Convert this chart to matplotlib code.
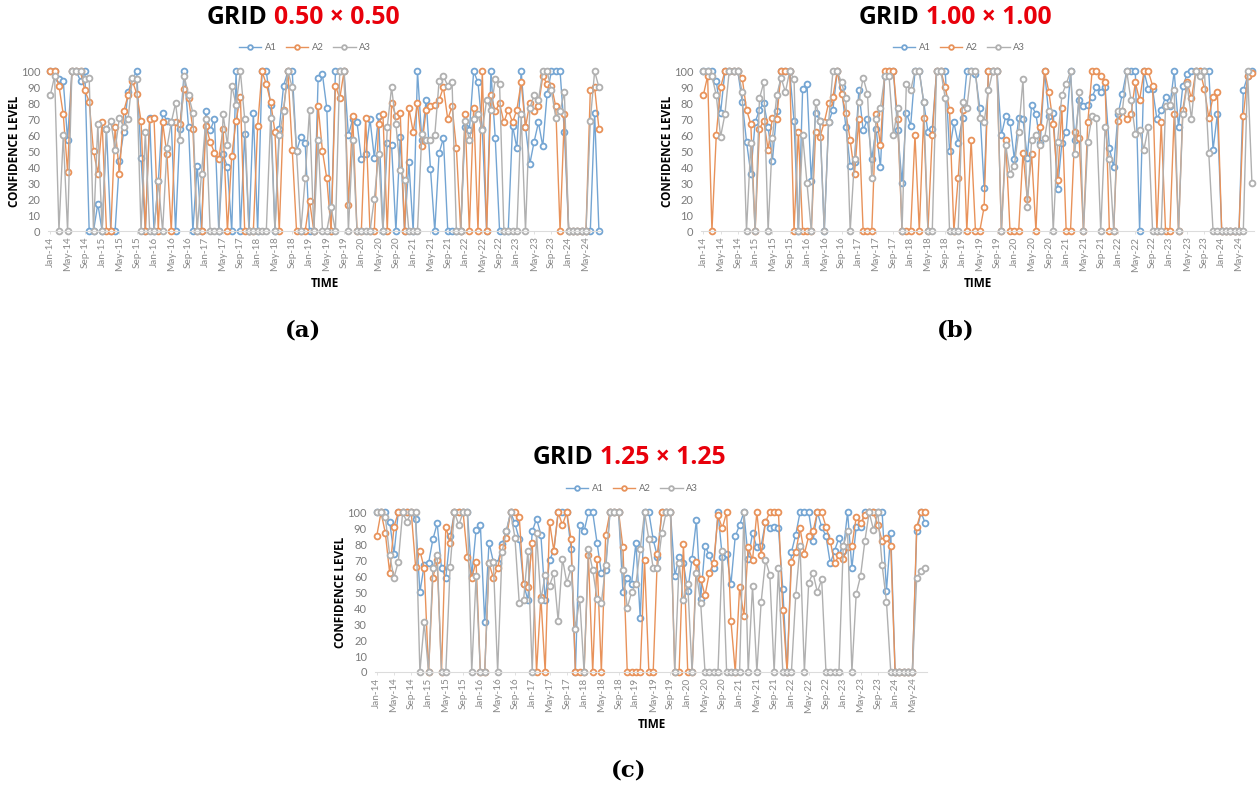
import pandas as pd
import matplotlib.pyplot as plt

W, H = 1260, 792

months = pd.date_range('2014-01-01', periods=128, freq='MS')
month_labels = [d.strftime('%b-%y') for d in months]

a_a1 = [100,100,95,94,57,100,100,94,100,0,
        0,17,0,64,0,0,44,62,87,95,
        100,46,0,71,0,31,74,69,68,0,
        64,100,65,0,41,0,75,63,70,0,
        48,40,0,100,0,61,0,74,0,100,
        100,79,0,64,91,100,100,50,59,55,
        0,0,96,98,77,0,100,100,100,60,
        70,68,45,48,70,46,72,0,55,54,
        0,59,0,43,0,100,57,82,39,0,
        49,58,0,0,0,0,65,63,100,93,
        64,0,100,58,0,0,0,66,52,100,
        65,42,56,68,53,86,100,100,100,62,
        0,0,0,0,0,0,74,0]
a_a2 = [100,100,91,73,37,100,100,100,88,81,
        50,36,68,0,0,65,36,75,85,94,
        86,69,0,70,71,0,68,48,0,68,
        67,89,83,64,0,0,66,56,49,45,
        64,0,47,69,84,0,0,0,66,100,
        92,81,62,0,76,100,51,0,0,0,
        19,0,78,50,33,0,91,83,100,16,
        72,0,0,71,0,0,67,73,0,80,
        72,74,0,77,62,80,53,76,78,79,
        82,90,70,78,52,0,73,0,77,0,
        100,0,85,75,80,68,76,68,76,93,
        65,80,75,78,97,92,91,78,0,73,
        0,0,0,0,0,88,90,64]
a_a3 = [85,97,0,60,0,100,100,100,95,96,
        0,67,0,64,69,51,71,65,70,96,
        95,0,62,0,0,31,0,52,68,80,
        57,97,85,74,0,36,70,0,0,0,
        73,54,91,79,100,70,0,0,0,0,
        0,71,0,60,75,100,90,50,0,33,
        76,0,57,0,0,15,0,100,100,0,
        57,0,0,0,0,20,48,0,65,90,
        67,38,32,0,0,0,61,57,57,60,
        94,97,91,93,0,0,69,57,70,73,
        63,82,76,95,92,0,0,0,0,73,
        0,77,85,82,100,100,88,71,75,87,
        0,0,0,0,0,69,100,90]

b_a1 = [100,100,100,94,74,100,100,100,100,81,
        56,36,68,76,80,65,44,75,100,100,
        100,69,0,89,92,31,74,69,0,68,
        76,100,90,65,41,43,88,63,70,45,
        64,40,97,100,100,63,30,74,66,100,
        100,81,62,64,100,100,100,50,68,55,
        71,100,100,98,77,27,100,100,100,60,
        72,68,45,71,70,46,79,73,55,100,
        72,74,26,55,62,100,57,82,78,79,
        84,90,87,90,52,40,73,86,100,100,
        100,0,100,89,89,70,76,84,78,100,
        65,91,98,100,100,100,100,100,51,73,
        0,0,0,0,0,88,97,100]
b_a2 = [85,97,0,60,90,100,100,100,100,96,
        76,67,0,64,69,51,71,70,100,100,
        100,0,62,0,0,0,62,59,68,80,
        84,100,86,74,57,36,70,0,0,0,
        73,54,100,100,100,70,0,0,0,60,
        0,71,0,60,100,100,90,76,0,33,
        76,0,57,0,0,15,100,100,100,0,
        57,0,0,0,49,20,48,0,65,100,
        87,67,32,77,0,0,62,58,0,68,
        100,100,97,93,0,0,69,75,70,73,
        93,82,100,100,91,0,68,0,0,73,
        0,76,93,83,100,100,89,71,84,87,
        0,0,0,0,0,72,97,99]
b_a3 = [100,100,97,85,59,73,100,100,100,87,
        0,55,0,83,93,0,58,85,96,87,
        100,95,0,60,30,0,81,69,0,68,
        100,100,93,83,0,45,81,96,86,33,
        70,77,97,97,60,77,0,92,88,100,
        100,81,0,0,100,100,83,0,0,0,
        81,77,100,100,71,68,88,100,100,0,
        54,36,41,62,95,15,57,60,54,58,
        75,0,56,85,92,100,48,87,0,56,
        72,71,0,65,45,0,75,75,100,82,
        61,63,51,65,0,0,0,78,79,88,
        0,73,92,70,100,97,100,49,0,0,
        0,0,0,0,0,0,100,30]

c_a1 = [100,100,100,94,74,100,100,100,100,96,
        50,67,68,83,93,65,59,85,100,100,
        100,100,60,89,92,31,81,69,68,80,
        88,100,93,83,55,45,88,96,86,45,
        70,76,100,100,100,77,0,92,88,100,
        100,81,62,64,100,100,100,50,59,55,
        81,34,100,100,83,72,100,100,100,60,
        72,68,51,71,95,46,79,73,65,100,
        72,74,55,85,92,100,71,87,78,79,
        94,90,91,90,52,0,75,86,100,100,
        100,82,100,91,85,68,76,84,76,100,
        65,91,91,100,100,100,100,100,51,87,
        0,0,0,0,0,88,100,93]
c_a2 = [85,100,87,62,91,100,100,100,100,66,
        76,65,0,59,70,0,91,81,100,100,
        100,72,59,69,0,0,68,59,65,78,
        84,100,100,97,55,53,81,0,47,0,
        94,76,100,92,100,83,0,0,0,73,
        0,71,0,86,100,100,100,78,0,0,
        0,0,70,0,0,74,100,100,100,0,
        0,80,0,0,69,58,48,62,68,98,
        90,100,32,0,53,35,78,70,100,73,
        94,100,100,100,39,0,69,75,90,74,
        85,88,100,100,91,82,68,73,71,78,
        79,97,93,98,100,100,92,82,84,79,
        0,0,0,0,0,91,100,100]
c_a3 = [100,100,97,73,59,69,100,94,100,100,
        0,31,0,65,73,0,0,66,100,92,
        100,100,0,60,0,0,68,69,0,75,
        88,100,84,43,45,76,0,87,45,61,
        54,62,32,71,56,65,27,46,0,77,
        64,46,43,67,100,100,100,64,40,50,
        55,77,100,83,65,65,87,100,100,0,
        68,45,55,0,62,43,0,0,0,0,
        76,0,0,0,0,100,0,54,0,44,
        70,61,0,65,0,0,0,48,79,0,
        56,62,50,58,0,0,0,0,79,88,
        0,49,60,82,100,89,100,67,44,0,
        0,0,0,0,0,59,63,65]

series_names = ['A1', 'A2', 'A3']
colors = ['#74a5d3', '#e8925a', '#b0b0b0']
tick_font = 'Lato'


def draw_panel(fig, x0, series, legend_x, ytop, grid_txt, title_cx, title_y):
    # axes placed in pixels so the three panels line up with the reference
    left = x0 - 2.16
    right = x0 + 127 * 4.32 + 2.16
    bottom = ytop + 159.7
    ax = fig.add_axes([left / W, 1 - bottom / H, (right - left) / W, 159.7 / H])
    ax.patch.set_alpha(0)
    for vals, name, col in zip(series, series_names, colors):
        ax.plot(range(len(vals)), vals, color=col, lw=1.0, marker='o', ms=4.2,
                mfc='white', mec=col, mew=1.3, clip_on=False, label=name)
    ax.set_xlim(-0.5, 127.5)
    ax.set_ylim(0, 100)
    ax.set_yticks(range(0, 101, 10))
    ax.set_xticks(range(0, 128, 4))
    ax.set_xticklabels(month_labels[::4], rotation=90, family=tick_font,
                       fontsize=7.2, color='#8a8a8a')
    ax.tick_params(axis='y', length=0, pad=5.5, labelsize=8, labelcolor='#7a7a7a')
    ax.tick_params(axis='x', length=2, width=0.6, color='#dcdcdc', pad=2)
    for lab in ax.get_yticklabels():
        lab.set_family(tick_font)
    for s in ['top', 'right', 'left']:
        ax.spines[s].set_visible(False)
    ax.spines['bottom'].set_color('#dcdcdc')
    ax.spines['bottom'].set_linewidth(0.8)

    fig.text((x0 - 36) / W, 1 - (ytop + 80) / H, 'CONFIDENCE LEVEL', rotation=90,
             ha='center', va='center', family='Open Sans', weight='bold', fontsize=8.5)
    fig.text((x0 + 275) / W, 1 - (ytop + 212.5) / H, 'TIME', ha='center', va='center',
             family='Open Sans', weight='bold', fontsize=8.5)

    ax.legend(loc='center', bbox_to_anchor=((legend_x - left) / (right - left), 1 + 23.5 / 159.7),
              ncol=3, frameon=False, columnspacing=1.0, handlelength=2.35, handletextpad=0.4,
              labelcolor='#707070', markerscale=0.8, prop={'family': tick_font, 'size': 6.8})

    # title is two colours, so the parts are placed one after the other
    renderer = fig.canvas.get_renderer()
    t1 = fig.text(title_cx / W, 1 - title_y / H, 'GRID', family='Open Sans', weight='bold',
                  fontsize=17.8, color='black', ha='left', va='center')
    t2 = fig.text(title_cx / W, 1 - title_y / H, grid_txt, family='Open Sans', weight='bold',
                  fontsize=17.8, color='#e8000b', ha='left', va='center')
    w1 = t1.get_window_extent(renderer).width + 6
    w2 = t2.get_window_extent(renderer).width
    start = title_cx - (w1 + w2) / 2
    t1.set_x(start / W)
    t2.set_x((start + w1) / W)
    return ax


def main():
    fig = plt.figure(figsize=(W / 100, H / 100), dpi=100)

    draw_panel(fig, 50.3, [a_a1, a_a2, a_a3], 305, 71.3, '0.50 × 0.50', 303, 17)
    draw_panel(fig, 703.3, [b_a1, b_a2, b_a3], 959, 71.3, '1.00 × 1.00', 955, 17)
    draw_panel(fig, 376.7, [c_a1, c_a2, c_a3], 632, 512.3, '1.25 × 1.25', 629, 458)

    cap = dict(ha='center', va='center', family='DejaVu Serif', weight='bold', fontsize=16.5)
    fig.text(303 / W, 1 - 330 / H, '(a)', **cap)
    fig.text(956 / W, 1 - 330 / H, '(b)', **cap)
    fig.text(629 / W, 1 - 771 / H, '(c)', **cap)

    plt.savefig('out.png', dpi=100)


if __name__ == "__main__":
    main()
